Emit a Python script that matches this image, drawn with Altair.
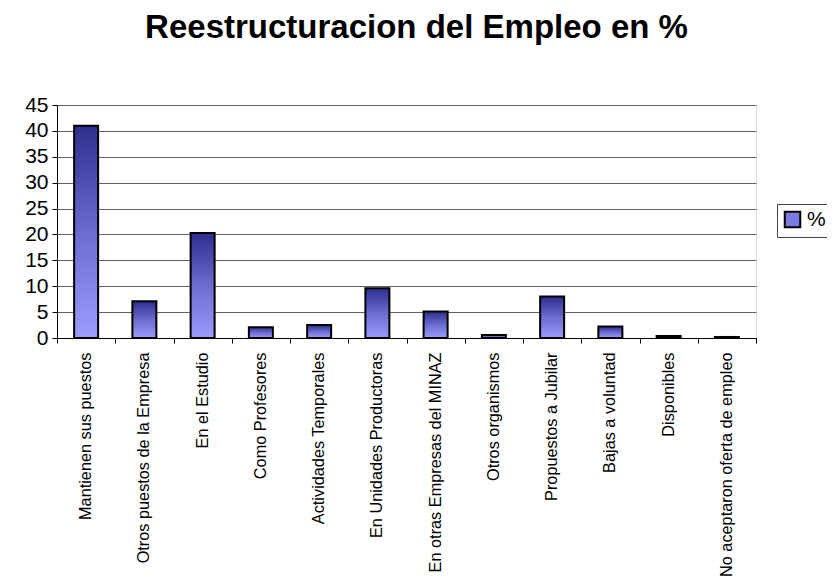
import altair as alt
import pandas as pd

categorias = [
    "Mantienen sus puestos",
    "Otros puestos de la Empresa",
    "En el Estudio",
    "Como Profesores",
    "Actividades Temporales",
    "En Unidades Productoras",
    "En otras Empresas del MINAZ",
    "Otros organismos",
    "Propuestos a Jubilar",
    "Bajas a voluntad",
    "Disponibles",
    "No aceptaron oferta de empleo",
]
valores = [41.0, 7.1, 20.3, 2.1, 2.5, 9.6, 5.1, 0.6, 8.0, 2.2, 0.4, 0.2]
serie = ["%"]
y_ticks = [0, 5, 10, 15, 20, 25, 30, 35, 40, 45]
tick_pos = list(range(len(categorias) + 1))

df = pd.DataFrame({"cat": categorias, "val": valores})
df_leg = pd.DataFrame({"serie": serie})
df_ticks = pd.DataFrame({"pos": tick_pos})

FONT = "Liberation Sans"

grad = alt.Gradient(
    gradient="linear",
    stops=[alt.GradientStop(color="#2e2e8f", offset=0),
           alt.GradientStop(color="#6b6bd0", offset=0.5),
           alt.GradientStop(color="#9c9cff", offset=1)],
    x1=0, x2=0, y1=0, y2=1,
)

bars = alt.Chart(df).mark_bar(fill=grad, stroke="black", strokeWidth=2).encode(
    x=alt.X("cat:N", sort=categorias, title=None,
            scale=alt.Scale(paddingInner=0.588, paddingOuter=0.294),
            axis=alt.Axis(orient="bottom", labelAngle=-90, labelAlign="right", labelBaseline="middle",
                          labelFontSize=16.3, labelFont=FONT, labelColor="black", labelPadding=14,
                          ticks=False, domain=True, domainColor="black", domainWidth=1,
                          labelLimit=400)),
    y=alt.Y("val:Q", title=None,
            scale=alt.Scale(domain=[0, 45], nice=False),
            axis=alt.Axis(values=y_ticks, labelFontSize=21, labelFont=FONT, labelColor="black",
                          tickColor="black", tickSize=5, domainColor="black", labelPadding=4,
                          grid=True, gridColor="#606060", gridWidth=1)),
)

ticks = alt.Chart(df_ticks).mark_point(opacity=0).encode(
    x=alt.X("pos:Q", title=None,
            scale=alt.Scale(domain=[0, len(categorias)], nice=False, zero=True),
            axis=alt.Axis(orient="bottom", values=tick_pos, labels=False, ticks=True, tickSize=5,
                          tickColor="black", domain=False, grid=False)),
)

leg = alt.Chart(df_leg).mark_square(opacity=0).encode(
    color=alt.Color("serie:N", title=None,
                    scale=alt.Scale(range=["#7a7ae0"]),
                    legend=alt.Legend(orient="none", legendX=720, legendY=99,
                                      symbolType="square", symbolSize=240, symbolOpacity=1,
                                      symbolStrokeColor="black",
                                      symbolStrokeWidth=2, labelFontSize=21, labelFont=FONT,
                                      labelColor="black", labelOffset=4,
                                      strokeColor="#444444", padding=5)),
)

chart = alt.layer(bars, ticks, leg).resolve_scale(x="independent").resolve_axis(x="independent").properties(
    width=699,
    height=233,
    autosize=alt.AutoSizeParams(type="none"),
    padding={"left": 49, "top": 97, "right": 71, "bottom": 245},
    title=alt.Title("Reestructuracion del Empleo en %", font=FONT, fontSize=33, fontWeight="bold",
                    color="black", anchor="middle", frame="group", offset=23,
                    baseline="alphabetic", dx=10),
).configure_view(stroke=None).configure(background="white")

chart.save("out.html", embed_options={"renderer": "svg", "actions": False})
